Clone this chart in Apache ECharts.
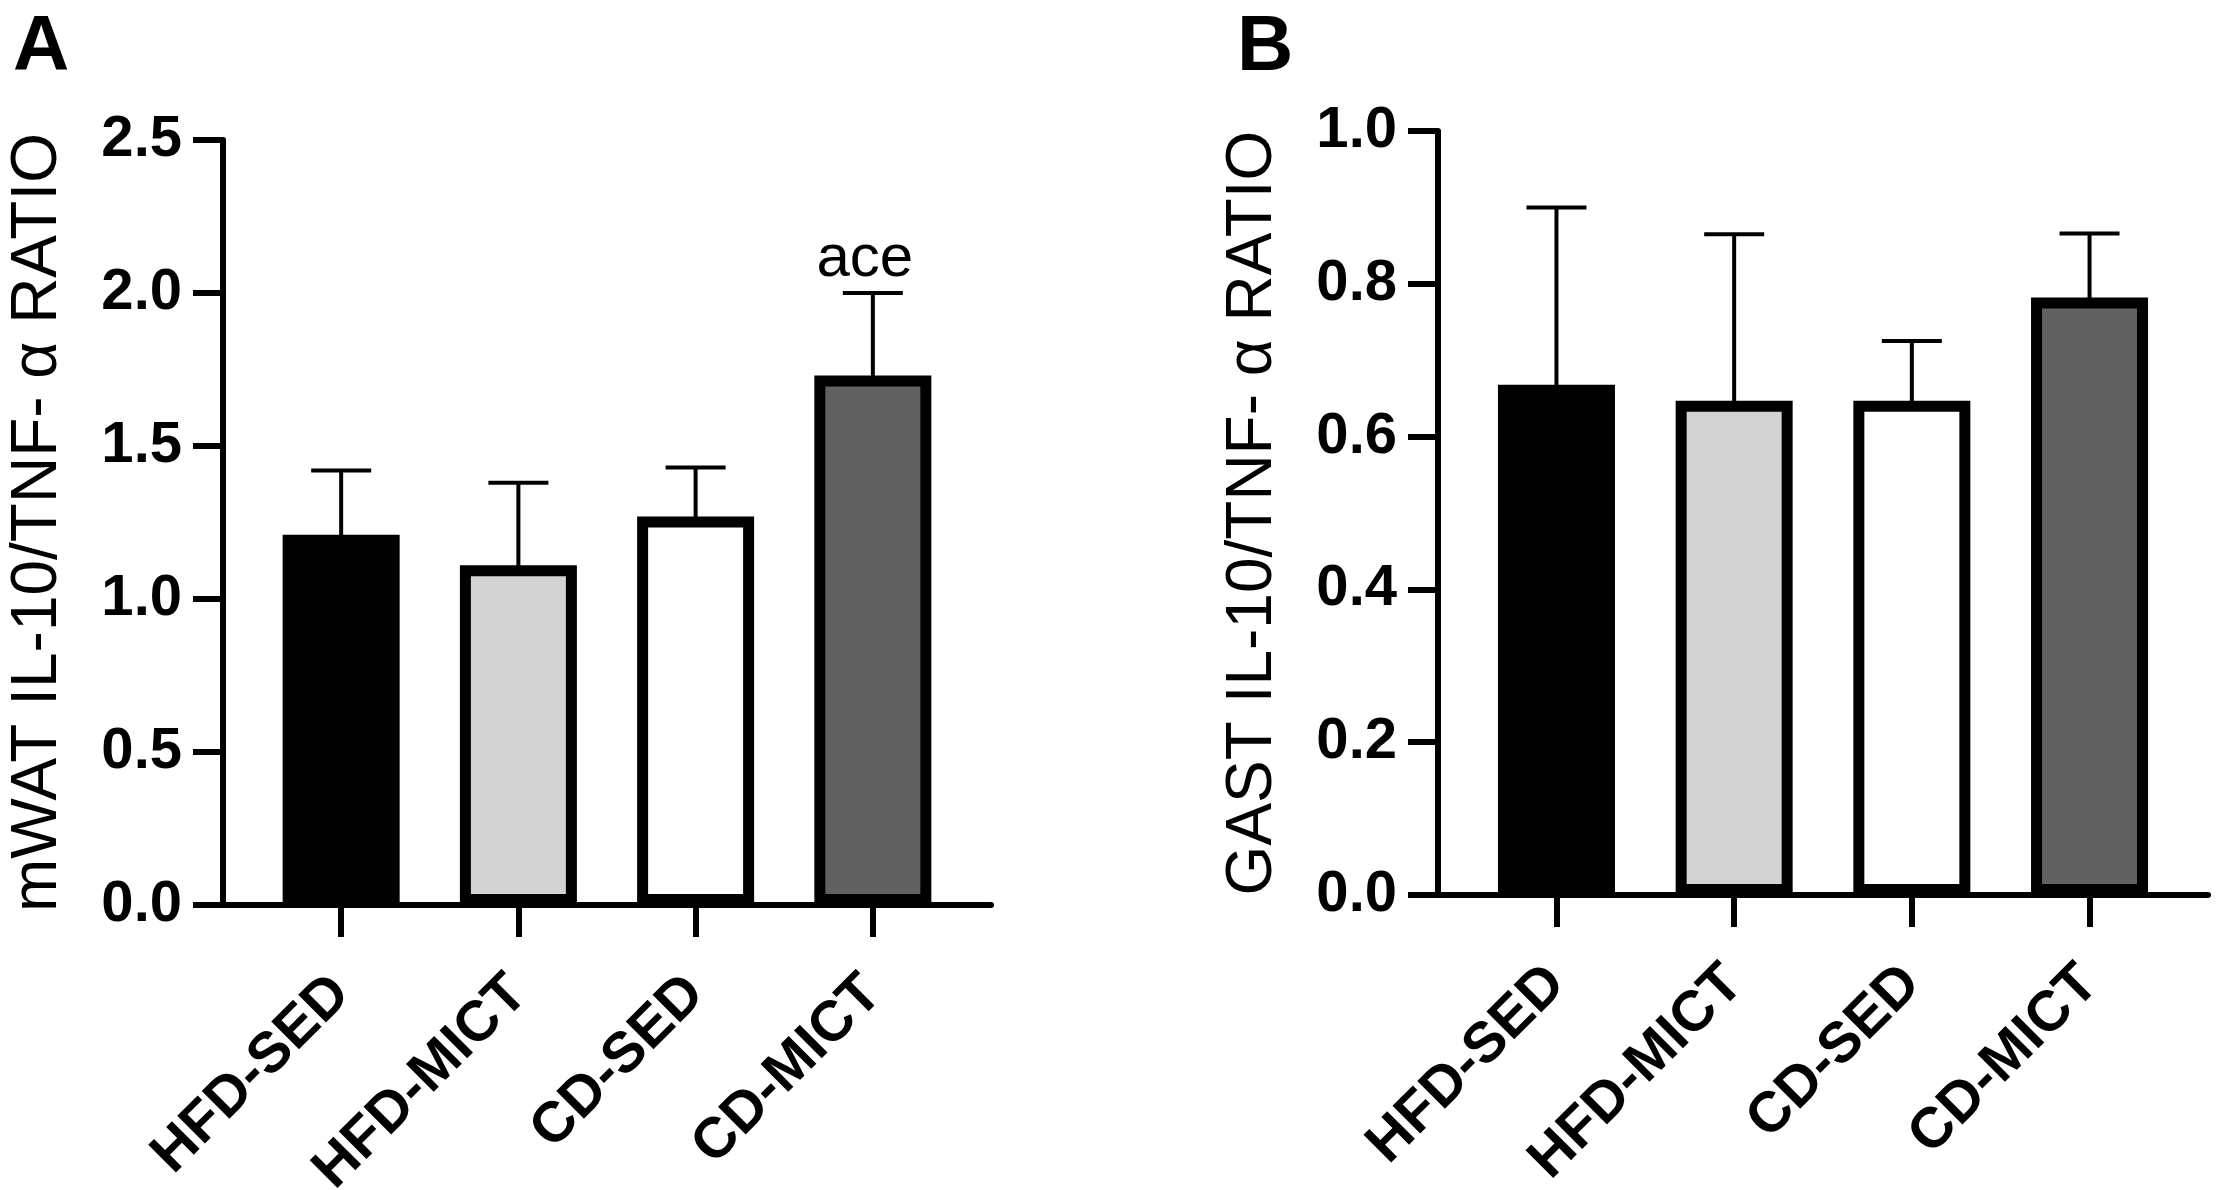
<!DOCTYPE html>
<html>
<head>
<meta charset="utf-8">
<script src="https://cdn.jsdelivr.net/npm/echarts@6/dist/echarts.min.js"></script>
<style>
  html, body { margin: 0; padding: 0; background: #fff; }
  #chart { width: 2217px; height: 1190px; }
</style>
</head>
<body>
<div id="chart"></div>
<script>
// groups on the x axis
var groups = ['HFD-SED', 'HFD-MICT', 'CD-SED', 'CD-MICT'];
var barColors = ['#000000', '#d3d3d3', '#ffffff', '#616161'];

// panel A: mWAT
var meanA = [1.21, 1.11, 1.27, 1.73];
var upperA = [1.42, 1.38, 1.43, 2.00];
var annotA = ['', '', '', 'ace'];
var ticksA = [0, 0.5, 1.0, 1.5, 2.0, 2.5];

// panel B: GAST
var meanB = [0.668, 0.647, 0.647, 0.782];
var upperB = [0.90, 0.865, 0.725, 0.866];
var annotB = ['', '', '', ''];
var ticksB = [0, 0.2, 0.4, 0.6, 0.8, 1.0];

var font = 'Liberation Sans, Arial, Helvetica, sans-serif';
var positions = groups.map(function (g, i) { return i; });

function barData(means) {
  return means.map(function (v, i) {
    return { value: [i, v], itemStyle: { color: barColors[i] } };
  });
}

function errData(means, uppers) {
  return means.map(function (v, i) { return [i, v, uppers[i]]; });
}

function makeErrorBar(annot) {
  return function (params, api) {
    var x = api.value(0);
    var base = api.coord([x, api.value(1)]);
    var top = api.coord([x, api.value(2)]);
    var kids = [
      { type: 'line', shape: { x1: base[0], y1: base[1] + 4, x2: top[0], y2: top[1] },
        style: { stroke: '#000', lineWidth: 4 } },
      { type: 'line', shape: { x1: top[0] - 30, y1: top[1], x2: top[0] + 30, y2: top[1] },
        style: { stroke: '#000', lineWidth: 4 } }
    ];
    var txt = annot[params.dataIndex];
    if (txt) {
      kids.push({ type: 'text', x: top[0] - 8, y: top[1] - 4,
        style: { text: txt, fontSize: 60, fontFamily: font, fill: '#000',
                 align: 'center', verticalAlign: 'bottom' } });
    }
    return { type: 'group', children: kids };
  };
}

function xAxisOpt(gridIndex) {
  return {
    type: 'value', gridIndex: gridIndex,
    min: -2 / 3, max: 11 / 3,
    splitLine: { show: false },
    axisLine: { show: true, onZero: false, lineStyle: { color: '#000', width: 6 } },
    axisTick: { show: true, customValues: positions, length: 32, lineStyle: { color: '#000', width: 6 } },
    axisLabel: {
      customValues: positions, rotate: 45, margin: 80,
      fontSize: 57, fontWeight: 'bold', fontFamily: font, color: '#000',
      formatter: function (v) { return groups[Math.round(v)]; }
    }
  };
}

function yAxisOpt(gridIndex, max, interval, name) {
  return {
    type: 'value', gridIndex: gridIndex,
    min: 0, max: max, interval: interval,
    name: name, nameLocation: 'middle', nameGap: 153,
    nameTextStyle: { fontSize: 64, fontFamily: font, color: '#000' },
    splitLine: { show: false },
    axisLine: { show: true, onZero: false, lineStyle: { color: '#000', width: 6 } },
    axisTick: { show: true, length: 30, lineStyle: { color: '#000', width: 6 } },
    axisLabel: {
      margin: 41, fontSize: 58, fontWeight: 'bold', fontFamily: font, color: '#000',
      formatter: function (v) { return v.toFixed(1); }
    }
  };
}

var chart = echarts.init(document.getElementById('chart'));
chart.setOption({
  animation: false,
  backgroundColor: '#fff',
  title: [
    { text: 'A', left: 8, top: 4, textStyle: { fontSize: 78, fontWeight: 'bold', fontFamily: font, color: '#000' } },
    { text: 'B', left: 1232, top: 4, textStyle: { fontSize: 78, fontWeight: 'bold', fontFamily: font, color: '#000' } }
  ],
  grid: [
    { left: 223, top: 140, width: 768, height: 765, outerBoundsMode: 'none', containLabel: false },
    { left: 1438, top: 131, width: 770, height: 764, outerBoundsMode: 'none', containLabel: false }
  ],
  xAxis: [xAxisOpt(0), xAxisOpt(1)],
  yAxis: [
    yAxisOpt(0, ticksA[ticksA.length - 1], 0.5, 'mWAT IL-10/TNF- α RATIO'),
    yAxisOpt(1, ticksB[ticksB.length - 1], 0.2, 'GAST IL-10/TNF- α RATIO')
  ],
  series: [
    { type: 'bar', xAxisIndex: 0, yAxisIndex: 0, barWidth: 117,
      itemStyle: { borderColor: '#000', borderWidth: 11 },
      data: barData(meanA) },
    { type: 'custom', xAxisIndex: 0, yAxisIndex: 0, z: 5,
      renderItem: makeErrorBar(annotA), encode: { x: 0, y: [1, 2] },
      data: errData(meanA, upperA) },
    { type: 'bar', xAxisIndex: 1, yAxisIndex: 1, barWidth: 117,
      itemStyle: { borderColor: '#000', borderWidth: 11 },
      data: barData(meanB) },
    { type: 'custom', xAxisIndex: 1, yAxisIndex: 1, z: 5,
      renderItem: makeErrorBar(annotB), encode: { x: 0, y: [1, 2] },
      data: errData(meanB, upperB) }
  ]
});
</script>
</body>
</html>
